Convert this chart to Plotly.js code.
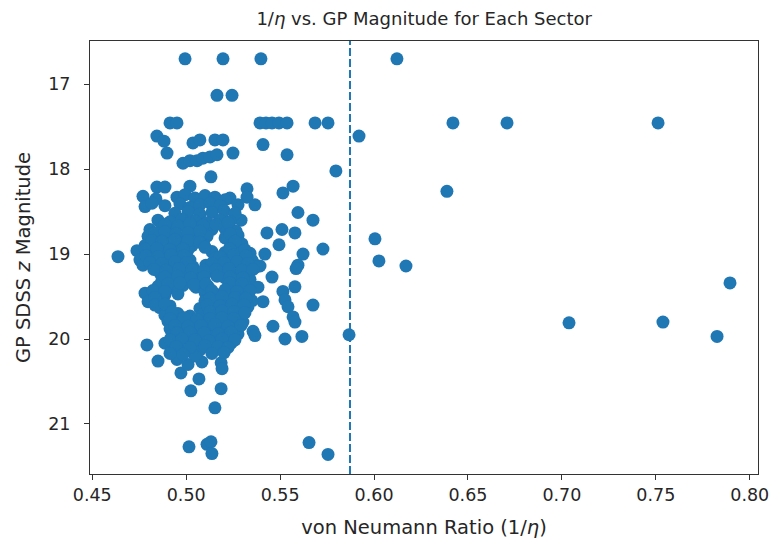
<!DOCTYPE html>
<html>
<head>
<meta charset="utf-8">
<script src="https://cdn.plot.ly/plotly-3.0.1.min.js"></script>
<style>html,body{margin:0;padding:0;background:#fff;}#chart{width:773px;height:546px;}</style>
</head>
<body>
<div id="chart"></div>
<script>
// Sparse / outlying sectors
const ratioSparse = [
  0.4994, 0.5196, 0.5398, 0.6122,
  0.5164, 0.5244,
  0.4914, 0.4951, 0.5393, 0.5425, 0.5457, 0.5494, 0.5537, 0.5686, 0.5755, 0.6420, 0.6708, 0.7512,
  0.4844, 0.4882, 0.4898, 0.5036, 0.5073, 0.5153, 0.5196, 0.5249, 0.5409, 0.5537, 0.5920, 0.5797, 0.6388,
  0.4983, 0.5020, 0.5058, 0.5089, 0.5127, 0.5164, 0.5132,
  0.4844, 0.4887, 0.5020, 0.5324, 0.5324, 0.5515, 0.5569,
  0.5233, 0.5276, 0.5366, 0.5595, 0.5292, 0.5675,
  0.5430, 0.5510, 0.5579, 0.5494, 0.5728, 0.5419, 0.5622, 0.5595, 0.5585, 0.5356, 0.5393, 0.5457,
  0.5579, 0.5515, 0.5526, 0.5542, 0.5569, 0.5579, 0.5675, 0.5409,
  0.5356, 0.5366, 0.5462, 0.5526, 0.5616, 0.5867,
  0.6005, 0.6026, 0.6170, 0.7895, 0.7038, 0.7538, 0.7826,
  0.5755, 0.5654, 0.5015, 0.5111, 0.5132, 0.5137,
  0.4637, 0.4791, 0.4850, 0.5025, 0.5186, 0.5153, 0.5186, 0.5191, 0.5068, 0.4972,
  0.4951, 0.5010, 0.5084
];
const magSparse = [
  16.70, 16.70, 16.70, 16.70,
  17.13, 17.13,
  17.455, 17.455, 17.455, 17.455, 17.455, 17.455, 17.455, 17.455, 17.455, 17.455, 17.455, 17.455,
  17.61, 17.67, 17.81, 17.69, 17.655, 17.655, 17.655, 17.81, 17.71, 17.83, 17.61, 18.02, 18.26,
  17.93, 17.90, 17.90, 17.87, 17.855, 17.83, 18.09,
  18.21, 18.21, 18.20, 18.23, 18.33, 18.28, 18.20,
  18.34, 18.42, 18.42, 18.51, 18.60, 18.60,
  18.75, 18.71, 18.75, 18.89, 18.94, 19.00, 19.00, 19.13, 19.17, 19.10, 19.14, 19.27,
  19.385, 19.44, 19.54, 19.62, 19.74, 19.80, 19.60, 19.56,
  19.91, 19.96, 19.85, 20.00, 19.97, 19.95,
  18.82, 19.08, 19.14, 19.34, 19.81, 19.80, 19.97,
  21.36, 21.22, 21.27, 21.24, 21.21, 21.35,
  19.03, 20.07, 20.26, 20.61, 20.585, 20.81, 20.28, 20.35, 20.47, 20.40,
  20.24, 20.30, 20.27
];
// Dense core of sectors
const ratioCore = [
  0.4770, 0.4839, 0.4951, 0.4994, 0.5047, 0.5100, 0.5153, 0.5207,
  0.4781, 0.4818, 0.4887, 0.4967, 0.5020, 0.5073, 0.5127, 0.5180,
  0.4940, 0.5010, 0.5073, 0.5137, 0.5202, 0.5260,
  0.4850, 0.4914, 0.4978, 0.5047, 0.5111, 0.5180, 0.5233,
  0.4807, 0.4871, 0.4940, 0.5010, 0.5073, 0.5137, 0.5207, 0.5265,
  0.4797, 0.4850, 0.4914, 0.4978, 0.5047, 0.5111, 0.5207, 0.5276,
  0.4781, 0.4834, 0.4898, 0.4967, 0.5031, 0.5095, 0.5233, 0.5297,
  0.4738, 0.4807, 0.4876, 0.4946, 0.5010, 0.5137, 0.5207, 0.5276, 0.5340,
  0.4754, 0.4818, 0.4887, 0.4956, 0.5020, 0.5153, 0.5223, 0.5286, 0.5350,
  0.4770, 0.4834, 0.4903, 0.4967, 0.5036, 0.5105, 0.5170, 0.5233, 0.5302, 0.5372,
  0.4860, 0.4924, 0.4994, 0.5063, 0.5127, 0.5196, 0.5265, 0.5329,
  0.4871, 0.4940, 0.5010, 0.5073, 0.5207, 0.5276, 0.5340,
  0.4850, 0.4914, 0.4983, 0.5052, 0.5116, 0.5244, 0.5313, 0.5382,
  0.4781, 0.4887, 0.4956, 0.5100, 0.5170, 0.5233, 0.5302,
  0.4797, 0.4876, 0.5100, 0.5153, 0.5223, 0.5286, 0.5350,
  0.4860, 0.4914, 0.5073, 0.5137, 0.5202, 0.5265, 0.5329,
  0.4887, 0.4956, 0.5020, 0.5089, 0.5153, 0.5223, 0.5286,
  0.4903, 0.4967, 0.5036, 0.5105, 0.5170, 0.5233, 0.5302,
  0.4914, 0.4983, 0.5052, 0.5121, 0.5191, 0.5260,
  0.4924, 0.4999, 0.5068, 0.5137, 0.5207, 0.5276,
  0.4887, 0.4956, 0.5031, 0.5100, 0.5170, 0.5239,
  0.4924, 0.4989, 0.5073, 0.5127, 0.5191,
  0.4956, 0.5047
];
const magCore = [
  18.32, 18.35, 18.33, 18.30, 18.34, 18.31, 18.33, 18.36,
  18.44, 18.40, 18.43, 18.41, 18.45, 18.42, 18.40, 18.43,
  18.52, 18.50, 18.53, 18.51, 18.49, 18.52,
  18.60, 18.62, 18.59, 18.61, 18.63, 18.60, 18.62,
  18.71, 18.69, 18.72, 18.70, 18.68, 18.71, 18.70, 18.73,
  18.79, 18.81, 18.78, 18.82, 18.80, 18.79, 18.81, 18.78,
  18.90, 18.88, 18.91, 18.87, 18.90, 18.89, 18.92, 18.88,
  18.96, 18.98, 18.97, 18.99, 18.95, 18.97, 18.98, 18.96, 18.99,
  19.07, 19.05, 19.06, 19.04, 19.07, 19.05, 19.06, 19.04, 19.07,
  19.13, 19.15, 19.14, 19.12, 19.15, 19.13, 19.16, 19.14, 19.12, 19.15,
  19.22, 19.24, 19.21, 19.23, 19.20, 19.22, 19.24, 19.21,
  19.31, 19.29, 19.32, 19.30, 19.28, 19.31, 19.30,
  19.38, 19.40, 19.37, 19.39, 19.38, 19.40, 19.37, 19.39,
  19.46, 19.48, 19.47, 19.45, 19.48, 19.46, 19.47,
  19.56, 19.54, 19.55, 19.57, 19.54, 19.56, 19.55,
  19.63, 19.61, 19.64, 19.62, 19.63, 19.65, 19.62,
  19.72, 19.70, 19.73, 19.71, 19.69, 19.72, 19.71,
  19.79, 19.81, 19.78, 19.80, 19.82, 19.79, 19.80,
  19.88, 19.86, 19.89, 19.87, 19.90, 19.88,
  19.96, 19.98, 19.95, 19.97, 19.96, 19.94,
  20.05, 20.03, 20.04, 20.06, 20.03, 20.05,
  20.12, 20.14, 20.13, 20.11, 20.13,
  20.21, 20.20
];
// More sectors packed in between the core rows
const ratioCore2 = [
  0.4887, 0.4956, 0.5020, 0.5089, 0.5159, 0.5223,
  0.4834, 0.4887, 0.4946, 0.5010, 0.5073, 0.5233,
  0.4818, 0.4871, 0.4940, 0.5010, 0.5073, 0.5260,
  0.4781, 0.4844, 0.4914, 0.4983, 0.5100, 0.5233, 0.5313,
  0.4786, 0.4850, 0.4919, 0.4989, 0.5180, 0.5254, 0.5318,
  0.4807, 0.4871, 0.4940, 0.5004, 0.5137, 0.5202, 0.5270, 0.5329,
  0.4828, 0.4892, 0.4962, 0.5031, 0.5095, 0.5159, 0.5228, 0.5297, 0.5356,
  0.4887, 0.4956, 0.5025, 0.5095, 0.5164, 0.5233, 0.5302,
  0.4903, 0.4967, 0.5041, 0.5105, 0.5233, 0.5297,
  0.4823, 0.4887, 0.5137, 0.5207, 0.5270, 0.5340,
  0.4834, 0.5127, 0.5191, 0.5260, 0.5318,
  0.4834, 0.4887, 0.5111, 0.5180, 0.5244, 0.5308,
  0.4924, 0.5127, 0.5191, 0.5254, 0.5313,
  0.4914, 0.4989, 0.5057, 0.5127, 0.5191, 0.5254,
  0.4940, 0.5010, 0.5079, 0.5153, 0.5223, 0.5292,
  0.4951, 0.5020, 0.5095, 0.5170, 0.5239,
  0.4914, 0.4978, 0.5047, 0.5121, 0.5191, 0.5260,
  0.4946, 0.5020, 0.5100, 0.5170, 0.5223,
  0.4914, 0.4983, 0.5137, 0.5202
];
const magCore2 = [
  18.65, 18.67, 18.64, 18.66, 18.65, 18.63,
  18.75, 18.74, 18.76, 18.75, 18.73, 18.76,
  18.84, 18.85, 18.83, 18.84, 18.86, 18.85,
  18.94, 18.93, 18.95, 18.94, 18.92, 18.94, 18.95,
  19.02, 19.03, 19.01, 19.02, 19.03, 19.01, 19.02,
  19.10, 19.11, 19.09, 19.10, 19.11, 19.10, 19.09, 19.11,
  19.18, 19.19, 19.17, 19.18, 19.19, 19.18, 19.17, 19.19, 19.18,
  19.27, 19.26, 19.28, 19.27, 19.26, 19.27, 19.28,
  19.35, 19.34, 19.36, 19.35, 19.34, 19.35,
  19.43, 19.44, 19.43, 19.42, 19.44, 19.43,
  19.51, 19.52, 19.50, 19.51, 19.52,
  19.60, 19.59, 19.60, 19.61, 19.59, 19.60,
  19.68, 19.68, 19.67, 19.68, 19.69,
  19.76, 19.75, 19.77, 19.76, 19.75, 19.76,
  19.84, 19.85, 19.84, 19.83, 19.85, 19.84,
  19.93, 19.92, 19.93, 19.94, 19.92,
  20.01, 20.00, 20.01, 20.02, 20.00, 20.01,
  20.09, 20.10, 20.08, 20.09, 20.10,
  20.17, 20.18, 20.17, 20.16
];
const xTicks = [0.45, 0.50, 0.55, 0.60, 0.65, 0.70, 0.75, 0.80];
const xTickText = ['0.45', '0.50', '0.55', '0.60', '0.65', '0.70', '0.75', '0.80'];
const yTicks = [17, 18, 19, 20, 21];
const threshold = 0.5872;

const ratio = ratioSparse.concat(ratioCore, ratioCore2);
const mag = magSparse.concat(magCore, magCore2);

const blue = '#1f77b4';
const font = 'DejaVu Sans, sans-serif';
const ink = '#262626';

const trace = {
  x: ratio, y: mag, type: 'scatter', mode: 'markers',
  marker: {color: blue, size: 13, line: {width: 0}},
  hoverinfo: 'x+y'
};

const layout = {
  width: 773, height: 546,
  margin: {l: 90, r: 15, t: 41, b: 72},
  paper_bgcolor: '#fff', plot_bgcolor: '#fff',
  showlegend: false,
  font: {family: font, color: ink},
  title: {text: '1/<i>η</i> vs. GP Magnitude for Each Sector', x: 0.5487, xanchor: 'center', y: 0.965, yanchor: 'middle', font: {size: 18, family: font, color: ink}},
  xaxis: {
    range: [0.4488, 0.8044], tickvals: xTicks, ticktext: xTickText,
    showgrid: false, zeroline: false, showline: true, mirror: true, linecolor: '#333', linewidth: 1,
    ticks: 'outside', ticklen: 5, tickcolor: '#333', tickfont: {size: 17.5, family: font, color: ink},
    title: {text: 'von Neumann Ratio (1/<i>η</i>)', font: {size: 19.5, family: font, color: ink}, standoff: 16}
  },
  yaxis: {
    range: [21.59, 16.49], tickvals: yTicks,
    showgrid: false, zeroline: false, showline: true, mirror: true, linecolor: '#333', linewidth: 1,
    ticks: 'outside', ticklen: 5, tickcolor: '#333', tickfont: {size: 17.5, family: font, color: ink},
    ticklabelstandoff: 10,
    title: {text: 'GP SDSS <i>z</i> Magnitude', font: {size: 19.5, family: font, color: ink}, standoff: 12}
  },
  shapes: [{
    type: 'line', xref: 'x', yref: 'paper', x0: threshold, x1: threshold, y0: 0, y1: 1,
    line: {color: blue, width: 2, dash: '8px,3px'}, layer: 'above'
  }]
};

Plotly.newPlot('chart', [trace], layout, {displayModeBar: false, staticPlot: true});
</script>
</body>
</html>
